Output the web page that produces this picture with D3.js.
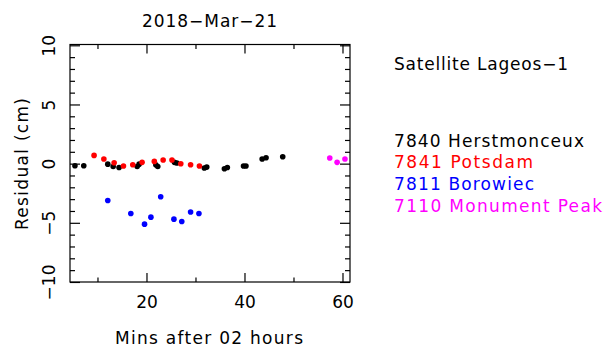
<!DOCTYPE html>
<html>
<head>
<meta charset="utf-8">
<script src="https://cdn.jsdelivr.net/npm/d3@7"></script>
<style>
  html, body { margin: 0; padding: 0; background: #fff; }
  text { font-family: "DejaVu Sans", sans-serif; font-size: 17px; }
</style>
</head>
<body>
<svg id="chart" width="604" height="351"></svg>
<script>
// Residuals (cm) per station, time in minutes after 02:00 UT
const herstmonceuxMins = [5.3, 7.1, 12.0, 13.1, 14.3, 18.0, 18.4, 21.8, 22.2, 25.6, 26.1, 31.7, 32.2, 35.8, 36.4, 39.7, 40.2, 43.5, 44.3, 47.7];
const herstmonceuxRes  = [-0.14, -0.14, 0.0, -0.2, -0.28, -0.2, 0.0, -0.05, -0.2, 0.15, 0.1, -0.33, -0.25, -0.39, -0.28, -0.16, -0.16, 0.43, 0.54, 0.63];

const potsdamMins = [9.2, 11.2, 13.3, 15.2, 17.1, 19.0, 21.5, 23.3, 25.1, 26.9, 28.9, 30.7];
const potsdamRes  = [0.74, 0.43, 0.12, -0.16, -0.05, 0.15, 0.23, 0.35, 0.35, 0.03, -0.05, -0.16];

const borowiecMins = [12.0, 16.7, 19.5, 20.8, 22.8, 25.5, 27.1, 28.9, 30.6];
const borowiecRes  = [-3.07, -4.17, -5.07, -4.48, -2.76, -4.65, -4.85, -4.05, -4.17];

const monumentPeakMins = [57.3, 58.8, 60.4];
const monumentPeakRes  = [0.52, 0.15, 0.43];

const stationCodes  = ["7840", "7841", "7811", "7110"];
const stationNames  = ["Herstmonceux", "Potsdam", "Borowiec", "Monument Peak"];
const stationColors = ["#000000", "#ff0000", "#0000ff", "#ff00ff"];

const xTicksMajor = [20, 40, 60];
const xTicksMinor = [10, 30, 50];
const yTicksMajor = [-10, -5, 0, 5, 10];
const yTicksMinor = d3.range(-9, 11, 1).filter(v => v % 5 !== 0);

const titleText = "2018\u2212Mar\u221221";
const satelliteText = "Satellite Lageos\u22121";
const xLabelText = "Mins after 02 hours";
const yLabelText = "Residual (cm)";

const series = [
  { mins: herstmonceuxMins, res: herstmonceuxRes },
  { mins: potsdamMins, res: potsdamRes },
  { mins: borowiecMins, res: borowiecRes },
  { mins: monumentPeakMins, res: monumentPeakRes }
];

const svg = d3.select("#chart");
const box = { left: 70, right: 350, top: 44.5, bottom: 282 };

const x = d3.scaleLinear().domain([4.29, 61.43]).range([box.left, box.right]);
const y = d3.scaleLinear().domain([-9.96, 10.11]).range([box.bottom, box.top]);

const fmt = v => (v < 0 ? "\u2212" + Math.abs(v) : String(v));

// frame
svg.append("rect")
  .attr("x", box.left).attr("y", box.top)
  .attr("width", box.right - box.left).attr("height", box.bottom - box.top)
  .attr("fill", "none").attr("stroke", "#000").attr("stroke-width", 1.2);

// tick marks on all four sides
const tickG = svg.append("g").attr("stroke", "#000").attr("stroke-width", 1.2);
function xTicks(vals, len) {
  vals.forEach(v => {
    const px = x(v);
    tickG.append("line").attr("x1", px).attr("x2", px).attr("y1", box.bottom).attr("y2", box.bottom - len);
    tickG.append("line").attr("x1", px).attr("x2", px).attr("y1", box.top).attr("y2", box.top + len);
  });
}
function yTicks(vals, len) {
  vals.forEach(v => {
    const py = y(v);
    if (py < box.top - 0.5 || py > box.bottom + 0.5) return;
    tickG.append("line").attr("x1", box.left).attr("x2", box.left + len).attr("y1", py).attr("y2", py);
    tickG.append("line").attr("x1", box.right).attr("x2", box.right - len).attr("y1", py).attr("y2", py);
  });
}
xTicks(xTicksMajor, 9);
xTicks(xTicksMinor, 4.5);
yTicks(yTicksMajor, 10);
yTicks(yTicksMinor, 5);

// tick labels
svg.append("g").selectAll("text").data(xTicksMajor).join("text")
  .attr("x", d => x(d)).attr("y", 308)
  .attr("text-anchor", "middle").text(d => d);

svg.append("g").selectAll("text").data(yTicksMajor).join("text")
  .attr("transform", d => `translate(55,${y(d)}) rotate(-90)`)
  .attr("text-anchor", "middle").text(fmt);

// axis titles and heading
svg.append("text").attr("x", 209.5).attr("y", 27).attr("text-anchor", "middle")
  .attr("textLength", 135).attr("lengthAdjust", "spacing").text(titleText);

svg.append("text").attr("x", 209).attr("y", 344).attr("text-anchor", "middle")
  .attr("textLength", 188).attr("lengthAdjust", "spacing").text(xLabelText);

svg.append("text").attr("transform", "translate(28,164) rotate(-90)")
  .attr("text-anchor", "middle")
  .attr("textLength", 132).attr("lengthAdjust", "spacing").text(yLabelText);

// data points
series.forEach((s, i) => {
  svg.append("g").selectAll("circle").data(s.mins.map((m, j) => [m, s.res[j]])).join("circle")
    .attr("cx", d => x(d[0])).attr("cy", d => y(d[1])).attr("r", 2.8)
    .attr("fill", stationColors[i]);
});

// legend
svg.append("text").attr("x", 394).attr("y", 70)
  .attr("textLength", 174).attr("lengthAdjust", "spacing").text(satelliteText);

const legendWidths = [190, 139, 140, 208];
const legendBase = [147, 168.3, 190, 212.3];
stationCodes.forEach((c, i) => {
  svg.append("text").attr("x", 394).attr("y", legendBase[i])
    .attr("fill", stationColors[i])
    .attr("textLength", legendWidths[i]).attr("lengthAdjust", "spacing")
    .text(c + " " + stationNames[i]);
});
</script>
</body>
</html>
